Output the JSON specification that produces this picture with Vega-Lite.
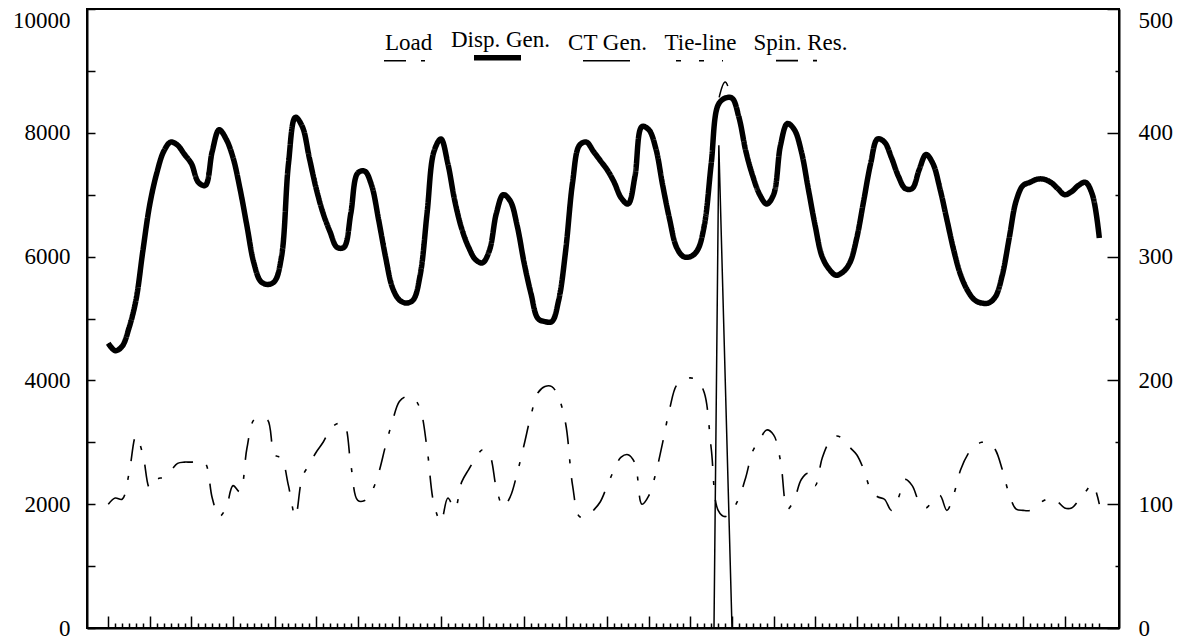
{
  "$schema": "https://vega.github.io/schema/vega-lite/v6.json",
  "width": 1032,
  "height": 619,
  "autosize": "none",
  "padding": {"left": 87, "top": 9, "right": 69, "bottom": 12},
  "background": "white",
  "config": {
    "view": {"stroke": "black", "strokeWidth": 2},
    "axis": {
      "domainColor": "black", "domainWidth": 2,
      "tickColor": "black", "tickWidth": 1.5,
      "labelColor": "black", "labelFont": "Liberation Serif", "labelFontSize": 23,
      "grid": false, "title": null, "labelOverlap": false, "labelFlush": false
    }
  },
  "datasets": {
    "hourly": [
      {"t":0,"load":4600,"disp":4600,"spin":100},{"t":1,"load":4480,"disp":4480,"spin":105},{"t":2,"load":4550,"disp":4550,"spin":104},{"t":3,"load":4850,"disp":4850,"spin":125},{"t":4,"load":5300,"disp":5300,"spin":155},{"t":5,"load":6100,"disp":6100,"spin":140},{"t":6,"load":6850,"disp":6850,"spin":113},{"t":7,"load":7350,"disp":7350,"spin":120},{"t":8,"load":7700,"disp":7700,"spin":122},{"t":9,"load":7850,"disp":7850,"spin":127},
      {"t":10,"load":7800,"disp":7800,"spin":133},{"t":11,"load":7650,"disp":7650,"spin":134},{"t":12,"load":7500,"disp":7500,"spin":134},{"t":13,"load":7200,"disp":7200,"spin":135},{"t":14,"load":7150,"disp":7150,"spin":133},{"t":15,"load":7700,"disp":7700,"spin":105},{"t":16,"load":8050,"disp":8050,"spin":90},{"t":17,"load":7900,"disp":7900,"spin":97},{"t":18,"load":7600,"disp":7600,"spin":115},{"t":19,"load":7100,"disp":7100,"spin":110},
      {"t":20,"load":6500,"disp":6500,"spin":145},{"t":21,"load":5900,"disp":5900,"spin":168},{"t":22,"load":5600,"disp":5600,"spin":170},{"t":23,"load":5550,"disp":5550,"spin":168},{"t":24,"load":5600,"disp":5600,"spin":140},{"t":25,"load":6000,"disp":6000,"spin":137},{"t":26,"load":7500,"disp":7500,"spin":115},{"t":27,"load":8250,"disp":8250,"spin":90},{"t":28,"load":8100,"disp":8100,"spin":122},{"t":29,"load":7600,"disp":7600,"spin":132},
      {"t":30,"load":7100,"disp":7100,"spin":142},{"t":31,"load":6700,"disp":6700,"spin":150},{"t":32,"load":6400,"disp":6400,"spin":160},{"t":33,"load":6150,"disp":6150,"spin":165},{"t":34,"load":6150,"disp":6150,"spin":165},{"t":35,"load":6700,"disp":6700,"spin":132},{"t":36,"load":7350,"disp":7350,"spin":103},{"t":37,"load":7380,"disp":7380,"spin":103},{"t":38,"load":7150,"disp":7150,"spin":110},{"t":39,"load":6600,"disp":6600,"spin":125},
      {"t":40,"load":6000,"disp":6000,"spin":147},{"t":41,"load":5500,"disp":5500,"spin":167},{"t":42,"load":5300,"disp":5300,"spin":183},{"t":43,"load":5250,"disp":5250,"spin":187},{"t":44,"load":5300,"disp":5300,"spin":186},{"t":45,"load":5700,"disp":5700,"spin":177},{"t":46,"load":6700,"disp":6700,"spin":145},{"t":47,"load":7700,"disp":7700,"spin":100},{"t":48,"load":7900,"disp":7900,"spin":86},{"t":49,"load":7500,"disp":7500,"spin":105},
      {"t":50,"load":6900,"disp":6900,"spin":96},{"t":51,"load":6450,"disp":6450,"spin":118},{"t":52,"load":6150,"disp":6150,"spin":128},{"t":53,"load":5950,"disp":5950,"spin":137},{"t":54,"load":5900,"disp":5900,"spin":144},{"t":55,"load":6100,"disp":6100,"spin":140},{"t":56,"load":6700,"disp":6700,"spin":113},{"t":57,"load":7000,"disp":7000,"spin":98},{"t":58,"load":6900,"disp":6900,"spin":106},{"t":59,"load":6500,"disp":6500,"spin":125},
      {"t":60,"load":5900,"disp":5900,"spin":148},{"t":61,"load":5400,"disp":5400,"spin":172},{"t":62,"load":5000,"disp":5000,"spin":190},{"t":63,"load":4950,"disp":4950,"spin":195},{"t":64,"load":4950,"disp":4950,"spin":195},{"t":65,"load":5300,"disp":5300,"spin":186},{"t":66,"load":6100,"disp":6100,"spin":165},{"t":67,"load":7200,"disp":7200,"spin":115},{"t":68,"load":7800,"disp":7800,"spin":90},{"t":69,"load":7850,"disp":7850,"spin":90},
      {"t":70,"load":7700,"disp":7700,"spin":95},{"t":71,"load":7550,"disp":7550,"spin":102},{"t":72,"load":7400,"disp":7400,"spin":115},{"t":73,"load":7200,"disp":7200,"spin":128},{"t":74,"load":6950,"disp":6950,"spin":138},{"t":75,"load":6850,"disp":6850,"spin":140},{"t":76,"load":7300,"disp":7300,"spin":133},{"t":77,"load":8100,"disp":8100,"spin":100},{"t":78,"load":8050,"disp":8050,"spin":107},{"t":79,"load":7750,"disp":7750,"spin":125},
      {"t":80,"load":7150,"disp":7150,"spin":150},{"t":81,"load":6600,"disp":6600,"spin":177},{"t":82,"load":6150,"disp":6150,"spin":196},{"t":83,"load":6000,"disp":6000,"spin":200},{"t":84,"load":6000,"disp":6000,"spin":202},{"t":85,"load":6100,"disp":6100,"spin":200},{"t":86,"load":6500,"disp":6500,"spin":190},{"t":87,"load":7500,"disp":7500,"spin":145},{"t":88,"load":8500,"disp":8450,"spin":95},{"t":89,"load":8820,"disp":8560,"spin":90},
      {"t":90,"load":8560,"disp":8560,"spin":95},{"t":91,"load":8250,"disp":8250,"spin":105},{"t":92,"load":7700,"disp":7700,"spin":122},{"t":93,"load":7300,"disp":7300,"spin":143},{"t":94,"load":7000,"disp":7000,"spin":152},{"t":95,"load":6850,"disp":6850,"spin":160},{"t":96,"load":7000,"disp":7000,"spin":156},{"t":97,"load":7800,"disp":7800,"spin":135},{"t":98,"load":8150,"disp":8150,"spin":96},{"t":99,"load":8050,"disp":8050,"spin":104},
      {"t":100,"load":7700,"disp":7700,"spin":120},{"t":101,"load":7100,"disp":7100,"spin":125},{"t":102,"load":6500,"disp":6500,"spin":115},{"t":103,"load":6000,"disp":6000,"spin":137},{"t":104,"load":5800,"disp":5800,"spin":150},{"t":105,"load":5700,"disp":5700,"spin":155},{"t":106,"load":5750,"disp":5750,"spin":153},{"t":107,"load":5900,"disp":5900,"spin":146},{"t":108,"load":6300,"disp":6300,"spin":140},{"t":109,"load":6900,"disp":6900,"spin":128},
      {"t":110,"load":7500,"disp":7500,"spin":112},{"t":111,"load":7900,"disp":7900,"spin":106},{"t":112,"load":7850,"disp":7850,"spin":104},{"t":113,"load":7600,"disp":7600,"spin":95},{"t":114,"load":7300,"disp":7300,"spin":105},{"t":115,"load":7100,"disp":7100,"spin":120},{"t":116,"load":7100,"disp":7100,"spin":115},{"t":117,"load":7400,"disp":7400,"spin":102},{"t":118,"load":7650,"disp":7650,"spin":97},{"t":119,"load":7500,"disp":7500,"spin":103},
      {"t":120,"load":7100,"disp":7100,"spin":107},{"t":121,"load":6600,"disp":6600,"spin":95},{"t":122,"load":6100,"disp":6100,"spin":108},{"t":123,"load":5700,"disp":5700,"spin":128},{"t":124,"load":5450,"disp":5450,"spin":140},{"t":125,"load":5300,"disp":5300,"spin":147},{"t":126,"load":5250,"disp":5250,"spin":150},{"t":127,"load":5250,"disp":5250,"spin":150},{"t":128,"load":5350,"disp":5350,"spin":144},{"t":129,"load":5700,"disp":5700,"spin":128},
      {"t":130,"load":6300,"disp":6300,"spin":108},{"t":131,"load":6900,"disp":6900,"spin":96},{"t":132,"load":7150,"disp":7150,"spin":95},{"t":133,"load":7200,"disp":7200,"spin":95},{"t":134,"load":7250,"disp":7250,"spin":99},{"t":135,"load":7250,"disp":7250,"spin":103},{"t":136,"load":7200,"disp":7200,"spin":105},{"t":137,"load":7100,"disp":7100,"spin":102},{"t":138,"load":7000,"disp":7000,"spin":97},{"t":139,"load":7050,"disp":7050,"spin":97},
      {"t":140,"load":7150,"disp":7150,"spin":103},{"t":141,"load":7200,"disp":7200,"spin":110},{"t":142,"load":7000,"disp":7000,"spin":116},{"t":143,"load":6300,"disp":6300,"spin":100}
    ],
    "spike": [
      {"t":0,"k":"ct","v":0},{"t":87.4,"k":"ct","v":0},{"t":88.1,"k":"ct","v":390},{"t":90,"k":"ct","v":0},{"t":143,"k":"ct","v":0},
      {"t":0,"k":"tie","v":0},{"t":143,"k":"tie","v":0}
    ]
  },
  "encoding": {
    "x": {
      "field": "t", "type": "quantitative",
      "scale": {"domain": [-3.07, 145.84], "nice": false, "zero": false},
      "axis": {
        "orient": "bottom", "labels": false,
        "values": [0,1,2,3,4,5,6,7,8,9,10,11,12,13,14,15,16,17,18,19,20,21,22,23,24,25,26,27,28,29,30,31,32,33,34,35,36,37,38,39,40,41,42,43,44,45,46,47,48,49,50,51,52,53,54,55,56,57,58,59,60,61,62,63,64,65,66,67,68,69,70,71,72,73,74,75,76,77,78,79,80,81,82,83,84,85,86,87,88,89,90,91,92,93,94,95,96,97,98,99,100,101,102,103,104,105,106,107,108,109,110,111,112,113,114,115,116,117,118,119,120,121,122,123,124,125,126,127,128,129,130,131,132,133,134,135,136,137,138,139,140,141,142,143],
        "tickSize": {"condition": {"test": "datum.value % 6 === 0", "value": -12}, "value": -5}
      }
    },
    "strokeDash": {
      "field": "k", "type": "nominal",
      "scale": {
        "domain": ["load", "disp", "ct", "tie", "spin"],
        "range": [[22, 15, 4, 15], [1, 0], [1, 0], [5, 18], [22, 15, 4, 15]]
      },
      "legend": {
        "orient": "none", "legendX": 296, "legendY": 22,
        "direction": "horizontal", "title": null,
        "symbolType": "stroke", "symbolSize": 2209, "symbolStrokeColor": "black",
        "labelFont": "Liberation Serif", "labelFontSize": 23, "labelColor": "black",
        "labelAlign": "center", "labelOffset": -23.5, "labelBaseline": "bottom",
        "columnPadding": 16,
        "labelExpr": "datum.label == 'load' ? 'Load' : datum.label == 'disp' ? 'Disp. Gen.' : datum.label == 'ct' ? 'CT Gen.' : datum.label == 'tie' ? 'Tie-line' : 'Spin. Res.'",
        "encoding": {"labels": {"dy": {"value": -6}}}
      }
    },
    "strokeWidth": {
      "field": "k", "type": "nominal",
      "scale": {"type": "ordinal", "domain": ["load", "disp", "ct", "tie", "spin"], "range": [1.5, 5.5, 1.5, 1.5, 1.6]}
    }
  },
  "layer": [
    {
      "data": {"name": "hourly"},
      "transform": [{"fold": ["load", "disp"], "as": ["k", "v"]}],
      "mark": {"type": "line", "color": "black", "interpolate": "catmull-rom", "strokeJoin": "round", "strokeCap": "butt", "clip": false},
      "encoding": {
        "y": {
          "field": "v", "type": "quantitative",
          "scale": {"domain": [0, 10000], "nice": false},
          "axis": {
            "orient": "left", "format": "d",
            "values": [0, 1000, 2000, 3000, 4000, 5000, 6000, 7000, 8000, 9000, 10000],
            "tickSize": -8, "labelPadding": 25,
            "labelExpr": "datum.value % 2000 === 0 ? datum.label : ''",
            "labelBaseline": {"condition": {"test": "datum.value === 10000", "value": "top"}, "value": "middle"}
          }
        }
      }
    },
    {
      "encoding": {
        "y": {
          "field": "v", "type": "quantitative",
          "scale": {"domain": [0, 500], "nice": false},
          "axis": {
            "orient": "right", "format": "d",
            "values": [0, 50, 100, 150, 200, 250, 300, 350, 400, 450, 500],
            "tickSize": {"condition": {"test": "datum.value % 100 === 0", "value": -12}, "value": -4},
            "labelPadding": 31,
            "labelExpr": "datum.value % 100 === 0 ? datum.label : ''",
            "labelBaseline": {"condition": {"test": "datum.value === 500", "value": "top"}, "value": "middle"}
          }
        }
      },
      "layer": [
        {
          "data": {"name": "hourly"},
          "transform": [{"fold": ["spin"], "as": ["k", "v"]}],
          "mark": {"type": "line", "color": "black", "interpolate": "catmull-rom", "strokeJoin": "round", "strokeCap": "butt", "clip": false}
        },
        {
          "data": {"name": "spike"},
          "mark": {"type": "line", "color": "black", "strokeJoin": "miter", "strokeCap": "butt", "clip": false}
        }
      ]
    }
  ],
  "resolve": {"scale": {"y": "independent"}}
}
